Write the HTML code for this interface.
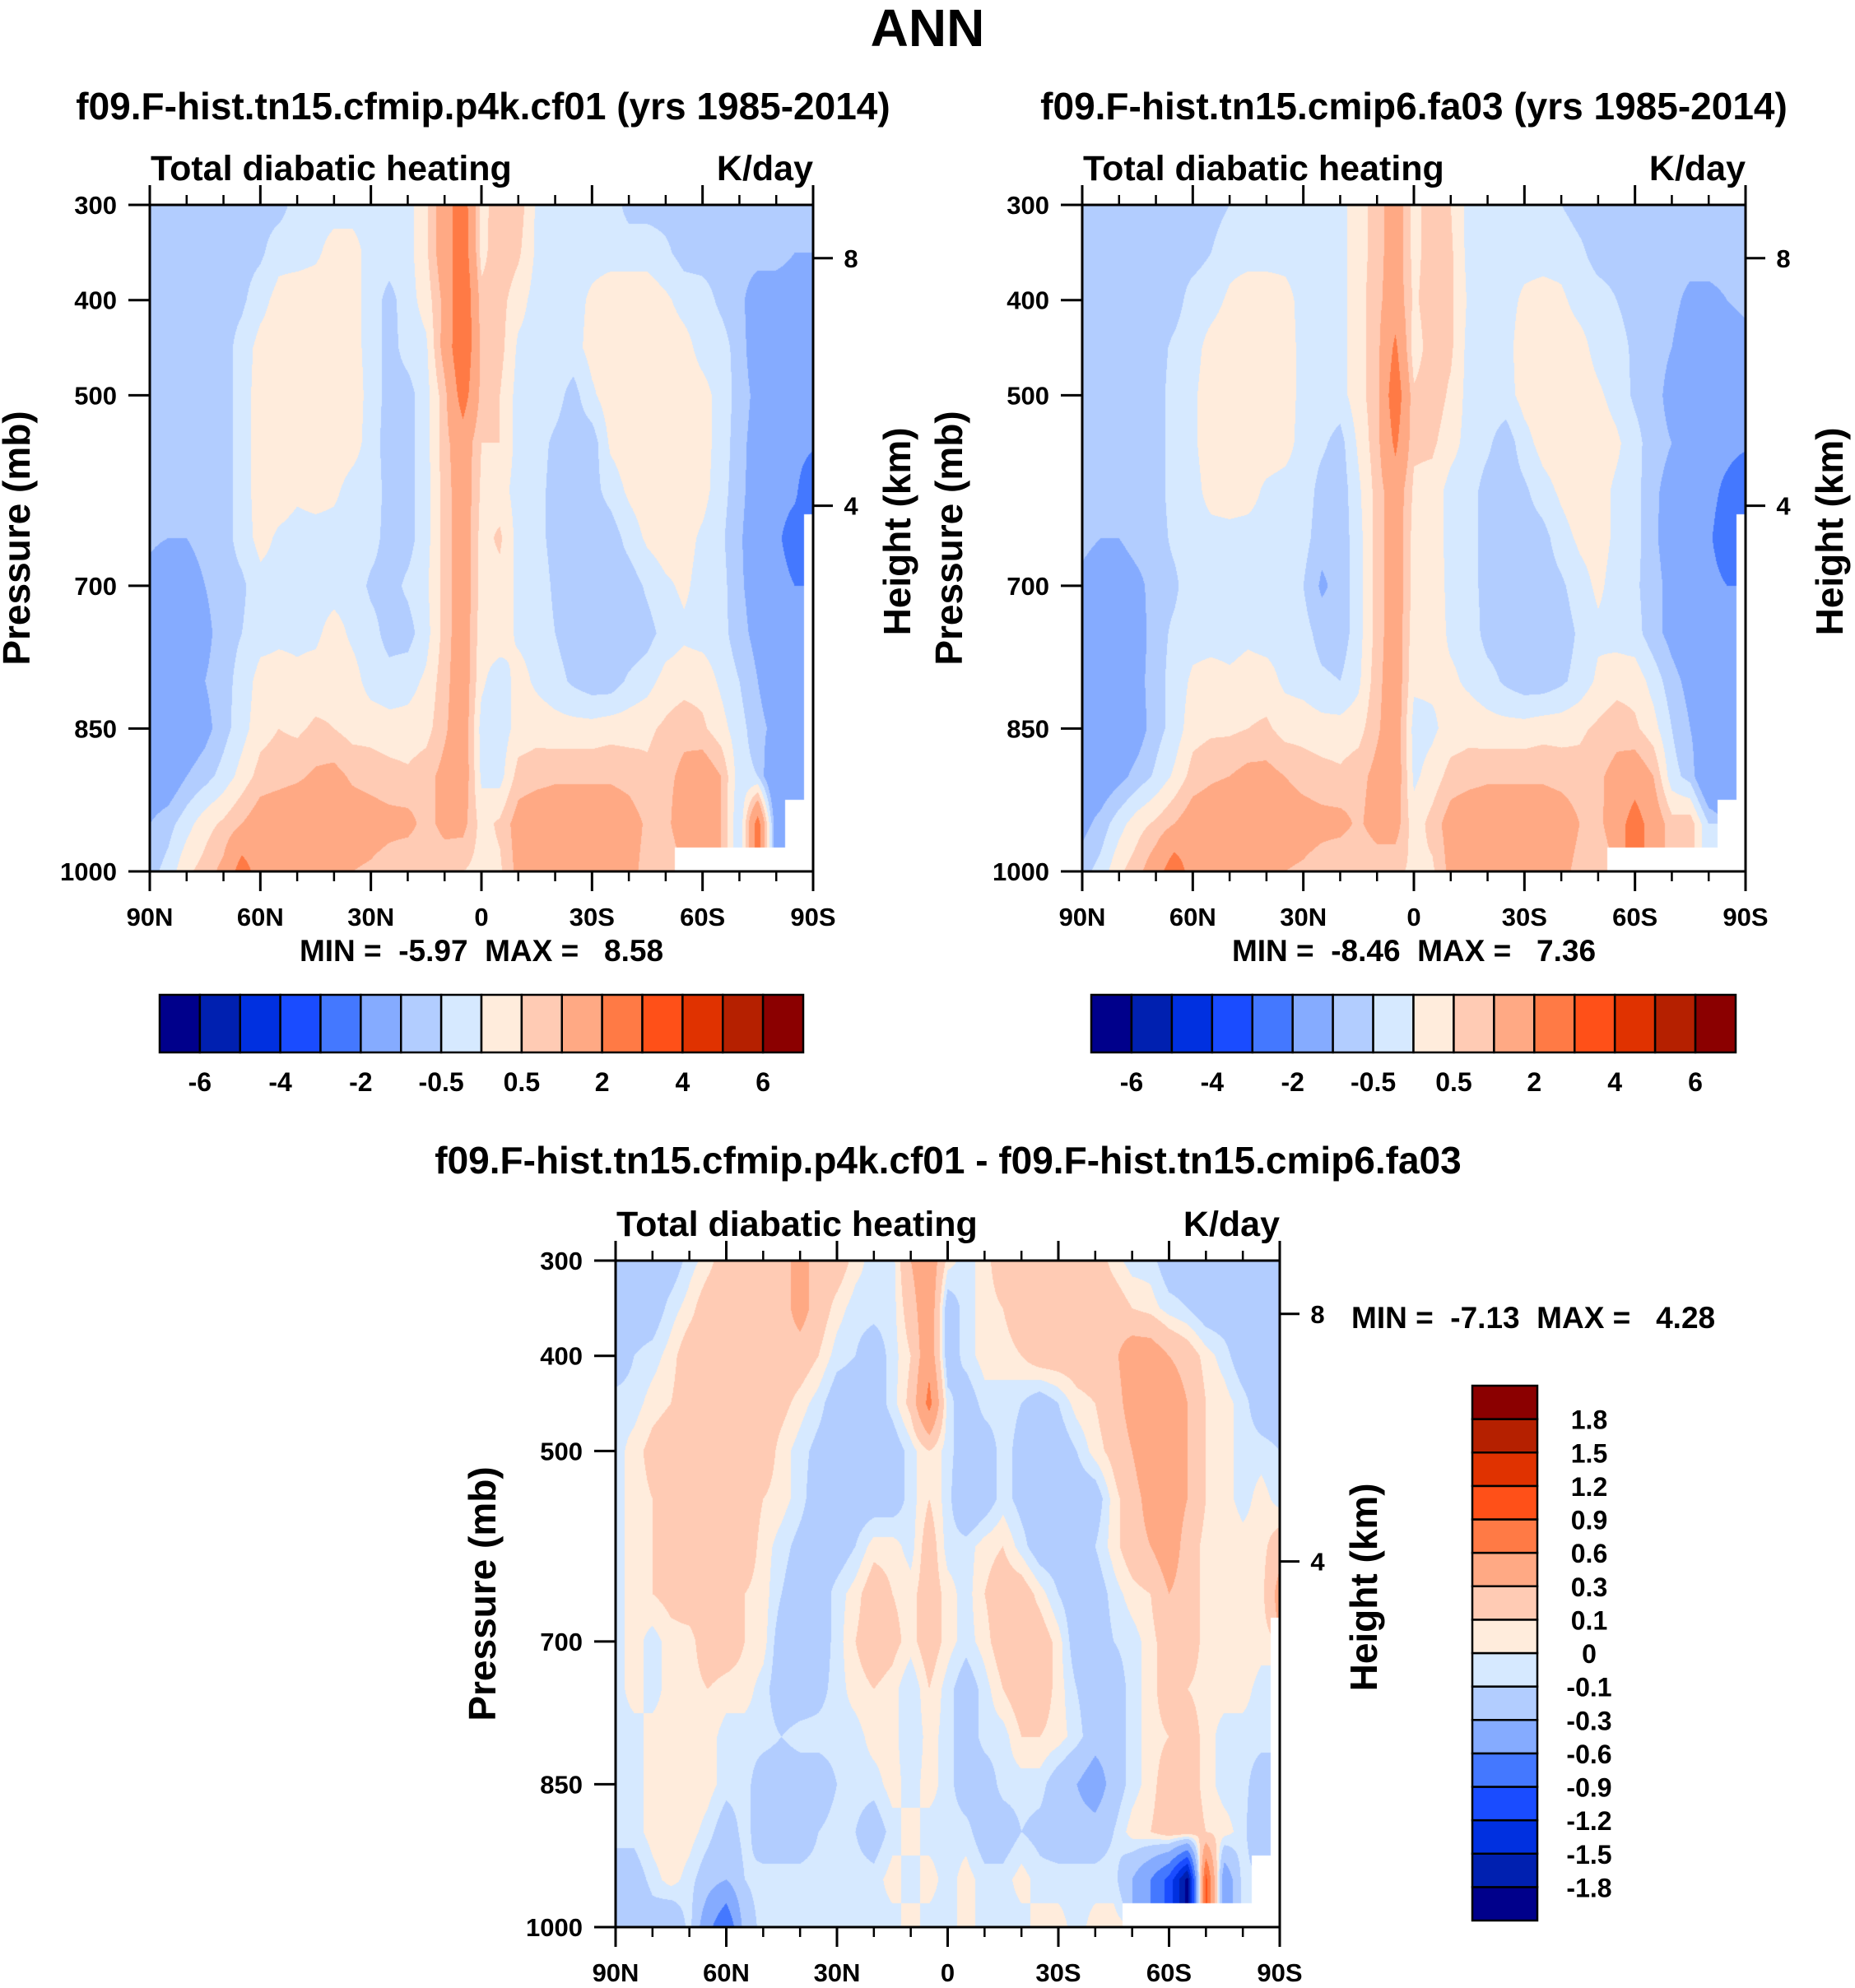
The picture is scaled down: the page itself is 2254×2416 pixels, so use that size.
<!DOCTYPE html>
<html><head><meta charset="utf-8"><style>
html,body{margin:0;padding:0;background:#fff;}
#wrap{position:relative;width:2254px;height:2416px;overflow:hidden;font-family:"Liberation Sans",sans-serif;}
canvas{position:absolute;}
svg{position:absolute;left:0;top:0;}
text{font-family:"Liberation Sans",sans-serif;font-weight:bold;fill:#000;}
</style></head><body>
<div id="wrap">
<canvas id="c1" style="left:182px;top:249px" width="806" height="810"></canvas>
<canvas id="c2" style="left:1315px;top:249px" width="806" height="810"></canvas>
<canvas id="c3" style="left:748px;top:1532px" width="807" height="810"></canvas>
<svg id="svg" width="2254" height="2416">
<text x="1127" y="56" font-size="64" text-anchor="middle">ANN</text>
<text x="587" y="145" font-size="46" text-anchor="middle">f09.F-hist.tn15.cfmip.p4k.cf01 (yrs 1985-2014)</text>
<text x="1718" y="145" font-size="46" text-anchor="middle">f09.F-hist.tn15.cmip6.fa03 (yrs 1985-2014)</text>
<text x="1152" y="1426" font-size="46" text-anchor="middle">f09.F-hist.tn15.cfmip.p4k.cf01 - f09.F-hist.tn15.cmip6.fa03</text>
<text x="585" y="1168" font-size="37" text-anchor="middle" xml:space="preserve">MIN =  -5.97  MAX =   8.58</text>
<text x="1718" y="1168" font-size="37" text-anchor="middle" xml:space="preserve">MIN =  -8.46  MAX =   7.36</text>
<text x="1642" y="1614" font-size="37" xml:space="preserve">MIN =  -7.13  MAX =   4.28</text>
</svg>
</div>
<script>
// ---- data ----
const lats = [90,85,80,75,70,65,60,55,50,45,40,35,30,25,20,15,10,5,0,-5,-10,-15,-20,-25,-30,-35,-40,-45,-50,-55,-60,-65,-70,-75,-80,-85,-90];
const pressures = [300,350,400,450,500,550,600,650,700,750,800,850,900,950,1000];
const N = NaN;
const levelsAbs = [-6,-5,-4,-3,-2,-1,-0.5,0,0.5,1,2,3,4,5,6];
const levelsDiff = [-1.8,-1.5,-1.2,-0.9,-0.6,-0.3,-0.1,0,0.1,0.3,0.6,0.9,1.2,1.5,1.8];
const absLabels = ['-6','-4','-2','-0.5','0.5','2','4','6'];
const diffLabels = ['-1.8','-1.5','-1.2','-0.9','-0.6','-0.3','-0.1','0','0.1','0.3','0.6','0.9','1.2','1.5','1.8'];
const palette = ['#00008b','#0020b0','#0030e0','#1a4cff','#4478ff','#85abff','#b2cdff','#d6e9ff','#ffecdc','#ffcbb4','#ffa984','#ff7a45','#ff5018','#e03200','#b52000','#8b0000'];
const pLabels = [300,400,500,700,850,1000];
const latMajor = [90,60,30,0,-30,-60,-90];
const latMajorLabels = ['90N','60N','30N','0','30S','60S','90S'];
const latMinor = [80,70,50,40,20,10,-10,-20,-40,-50,-70,-80];
const heightTicks = [8,4];
const heightTickP = [356,616];

const cf01 = [
[-0.7,-0.7,-0.7,-0.7,-0.7,-0.7,-0.7,-0.7,-0.3,-0.2,-0.2,-0.2,-0.2,-0.2,-0.2,0.4,1.5,2.6,0.3,0.8,0.8,-0.1,-0.2,-0.2,-0.2,-0.2,-0.7,-0.7,-0.7,-0.7,-0.7,-0.7,-0.7,-0.7,-0.7,-0.7,-0.7],
[-0.7,-0.7,-0.7,-0.7,-0.7,-0.7,-0.6,-0.2,-0.2,-0.1,0.2,0.2,-0.2,-0.2,-0.2,0.4,1.5,2.7,0.3,0.9,0.6,-0.1,-0.2,-0.2,-0.2,-0.2,-0.2,-0.2,-0.4,-0.7,-0.7,-0.7,-0.7,-0.7,-0.7,-1.0,-1.0],
[-0.7,-0.7,-0.7,-0.7,-0.7,-0.6,-0.2,0.2,0.3,0.3,0.3,0.2,-0.2,-0.7,-0.2,0.2,1.2,3.0,0.7,0.7,0.2,-0.2,-0.2,-0.2,0.1,0.3,0.3,0.3,0.1,-0.2,-0.3,-0.6,-0.8,-1.5,-1.5,-1.5,-1.5],
[-0.7,-0.7,-0.7,-0.7,-0.7,-0.3,0.2,0.3,0.3,0.3,0.3,0.2,-0.2,-0.7,-0.3,-0.1,1.3,3.0,0.8,0.7,-0.1,-0.2,-0.2,-0.2,0.2,0.3,0.3,0.3,0.3,0.2,-0.2,-0.3,-0.7,-1.5,-1.5,-1.5,-1.5],
[-0.7,-0.7,-0.7,-0.7,-0.7,-0.3,0.3,0.3,0.3,0.3,0.3,0.3,-0.2,-0.7,-0.7,-0.2,0.8,2.5,0.8,0.5,-0.2,-0.2,-0.3,-0.7,-0.1,0.3,0.3,0.3,0.3,0.3,0.2,-0.2,-0.7,-1.2,-1.5,-1.5,-1.5],
[-0.7,-0.7,-0.7,-0.7,-0.7,-0.3,0.3,0.3,0.3,0.3,0.3,0.2,-0.2,-0.8,-0.7,-0.2,0.8,1.5,0.5,0.5,-0.2,-0.3,-0.6,-0.8,-0.8,0.1,0.3,0.3,0.3,0.3,0.2,-0.2,-0.8,-1.3,-1.5,-1.6,-1.8],
[-0.7,-0.7,-0.7,-0.7,-0.7,-0.3,0.3,0.3,0.1,0.2,0.1,-0.2,-0.2,-0.7,-0.7,-0.2,0.7,1.5,0.4,0.2,-0.2,-0.3,-0.7,-0.8,-0.7,-0.3,0.1,0.3,0.3,0.3,0.2,-0.3,-0.8,-1.4,-1.6,-1.8,-3.0],
[-0.9,-1.0,-1.0,-0.7,-0.7,-0.3,0.2,-0.1,-0.2,-0.2,-0.2,-0.2,-0.3,-0.7,-0.7,-0.2,0.7,1.5,0.3,0.6,-0.2,-0.3,-0.7,-0.8,-0.8,-0.8,-0.3,0.1,0.3,0.2,-0.1,-0.4,-0.9,-1.5,-1.8,-2.5,N],
[-1.2,-1.5,-1.5,-1.0,-0.7,-0.6,-0.2,-0.2,-0.2,-0.2,-0.2,-0.2,-0.6,-0.7,-0.4,-0.1,0.7,1.5,0.3,0.3,-0.1,-0.2,-0.6,-0.8,-0.8,-0.8,-0.8,-0.4,-0.1,0.1,-0.2,-0.3,-0.9,-1.3,-1.6,-2.0,N],
[-1.5,-1.5,-1.5,-1.2,-0.7,-0.5,-0.2,-0.1,-0.1,-0.1,0.2,-0.1,-0.3,-0.7,-0.7,-0.2,0.7,1.5,0.2,0.3,-0.1,-0.2,-0.5,-0.8,-0.8,-0.8,-0.9,-0.7,-0.3,-0.1,-0.2,-0.3,-0.8,-1.2,-1.5,-1.5,N],
[-1.5,-1.5,-1.5,-1.0,-0.7,-0.3,0.2,0.2,0.1,0.2,0.3,0.2,-0.2,-0.3,-0.2,0.1,0.8,1.5,0.1,-0.3,0.2,-0.1,-0.3,-0.6,-0.8,-0.8,-0.4,-0.2,0.2,0.3,0.3,-0.1,-0.5,-1.0,-1.5,-1.5,N],
[-1.5,-1.5,-1.5,-1.2,-0.7,-0.2,0.3,0.5,0.4,0.6,0.5,0.3,0.3,0.2,0.2,0.3,0.9,1.5,-0.2,-0.3,0.2,0.3,0.2,0.2,0.2,0.3,0.3,0.4,0.6,0.8,0.6,0.2,-0.3,-0.8,-1.2,-1.5,N],
[-1.5,-1.5,-1.0,-0.7,-0.3,0.2,0.7,0.8,0.9,1.1,1.2,0.9,0.8,0.7,0.6,0.8,1.2,1.5,-0.1,-0.2,0.7,0.8,0.9,0.9,0.9,0.9,0.8,0.6,0.8,1.2,1.5,1.0,-0.3,-0.5,-2.0,-1.5,N],
[-1.0,-0.7,-0.2,0.3,0.6,1.0,1.4,1.5,1.6,1.5,1.5,1.4,1.3,1.2,1.2,0.8,1.2,1.2,0.3,0.6,1.3,1.5,1.5,1.5,1.5,1.5,1.3,0.9,0.8,1.5,1.5,1.0,-0.5,2.5,-1.5,N,N],
[-0.7,-0.3,0.4,0.7,1.2,2.5,1.5,1.5,1.5,1.3,1.2,1.0,0.9,0.7,0.5,0.5,0.6,0.5,0.3,0.4,1.2,1.5,1.5,1.5,1.5,1.5,1.2,0.8,0.5,N,N,N,N,N,N,N,N]
];
const fa03 = [
[-0.7,-0.7,-0.7,-0.7,-0.7,-0.7,-0.7,-0.7,-0.5,-0.2,-0.2,-0.2,-0.2,-0.2,-0.2,0.3,0.7,1.5,0.3,0.8,0.5,-0.2,-0.2,-0.2,-0.2,-0.2,-0.5,-0.7,-0.7,-0.7,-0.7,-0.7,-0.7,-0.7,-0.7,-0.7,-0.7],
[-0.7,-0.7,-0.7,-0.7,-0.7,-0.7,-0.7,-0.5,-0.2,-0.2,-0.2,-0.2,-0.2,-0.2,-0.2,0.3,0.7,1.5,0.3,0.8,0.6,-0.2,-0.2,-0.2,-0.2,-0.2,-0.2,-0.4,-0.7,-0.7,-0.7,-0.7,-0.7,-0.7,-0.7,-0.7,-0.7],
[-0.7,-0.7,-0.7,-0.7,-0.7,-0.7,-0.3,-0.2,0.1,0.3,0.3,0.2,-0.2,-0.2,-0.2,0.3,0.8,1.5,0.4,0.8,0.6,-0.1,-0.2,-0.2,0.1,0.2,0.1,-0.2,-0.3,-0.5,-0.7,-0.7,-0.8,-1.2,-1.2,-1.0,-0.8],
[-0.7,-0.7,-0.7,-0.7,-0.7,-0.4,-0.2,0.2,0.3,0.3,0.3,0.3,-0.2,-0.2,-0.2,0.3,0.8,2.2,0.2,0.8,0.6,-0.2,-0.2,-0.2,0.3,0.3,0.3,0.2,-0.2,-0.3,-0.6,-0.8,-1.0,-1.5,-1.5,-1.5,-1.3],
[-0.7,-0.7,-0.7,-0.7,-0.7,-0.3,-0.1,0.3,0.3,0.3,0.3,0.3,-0.2,-0.2,-0.2,0.3,0.8,2.7,0.6,0.8,0.4,-0.2,-0.2,-0.2,0.2,0.3,0.3,0.3,0.1,-0.2,-0.6,-0.8,-1.2,-1.5,-1.5,-1.5,-1.5],
[-0.7,-0.7,-0.7,-0.7,-0.7,-0.3,-0.1,0.3,0.3,0.3,0.3,0.2,-0.2,-0.4,-0.7,0.1,0.8,2.2,0.6,0.6,0.2,-0.2,-0.4,-0.8,-0.2,0.2,0.3,0.3,0.3,0.1,-0.3,-0.8,-1.0,-1.5,-1.5,-1.6,-1.8],
[-0.7,-0.7,-0.7,-0.7,-0.7,-0.3,-0.2,0.2,0.3,0.2,-0.1,-0.2,-0.2,-0.7,-0.8,-0.1,0.7,1.5,0.4,0.3,-0.2,-0.3,-0.7,-0.8,-0.6,-0.2,0.1,0.3,0.2,-0.1,-0.3,-0.9,-1.2,-1.5,-1.6,-2.3,-3.0],
[-0.8,-1.0,-1.0,-0.7,-0.7,-0.4,-0.2,-0.2,-0.2,-0.2,-0.2,-0.2,-0.3,-0.8,-0.8,-0.2,0.7,1.5,0.3,0.3,-0.2,-0.3,-0.7,-0.8,-0.8,-0.7,-0.2,0.1,0.2,-0.1,-0.3,-0.9,-1.3,-1.5,-1.8,-2.8,N],
[-1.2,-1.5,-1.5,-1.2,-0.7,-0.6,-0.2,-0.2,-0.2,-0.2,-0.2,-0.2,-0.5,-1.1,-0.8,-0.2,0.7,1.5,0.3,0.4,-0.2,-0.3,-0.7,-0.8,-0.8,-0.8,-0.6,-0.2,0.1,-0.2,-0.4,-0.8,-1.2,-1.5,-1.6,-2.0,N],
[-1.5,-1.5,-1.5,-1.3,-0.7,-0.4,-0.2,-0.2,-0.2,-0.1,-0.2,-0.2,-0.3,-0.7,-0.8,-0.2,0.7,1.5,0.2,0.3,-0.1,-0.2,-0.7,-0.8,-0.8,-0.8,-0.8,-0.4,-0.1,-0.2,-0.3,-0.8,-1.2,-1.5,-1.5,-1.6,N],
[-1.5,-1.5,-1.5,-1.2,-0.7,-0.3,0.1,0.2,0.1,0.2,0.2,-0.1,-0.2,-0.4,-0.5,-0.1,0.8,1.5,0.1,0.1,0.1,-0.1,-0.3,-0.6,-0.8,-0.8,-0.6,-0.3,0.1,0.3,0.3,-0.2,-0.8,-1.2,-1.5,-1.6,N],
[-1.5,-1.5,-1.5,-1.3,-0.7,-0.3,0.3,0.4,0.4,0.5,0.6,0.3,0.3,0.2,0.2,0.3,0.9,1.5,-0.2,-0.1,0.2,0.3,0.2,0.2,0.2,0.3,0.3,0.4,0.6,0.8,0.6,0.2,-0.5,-1.0,-1.5,-1.7,N],
[-1.5,-1.5,-1.2,-0.8,-0.4,0.1,0.7,0.9,1.0,1.2,1.2,1.0,0.8,0.7,0.6,0.8,1.2,1.5,-0.1,0.2,0.7,0.8,0.9,0.9,0.9,0.9,0.8,0.7,0.9,1.2,1.5,1.0,-0.3,-0.7,-2.0,-2.0,N],
[-1.2,-0.8,-0.2,0.3,0.6,1.0,1.4,1.5,1.6,1.5,1.5,1.4,1.3,1.2,1.2,0.9,1.3,1.3,0.2,0.7,1.3,1.5,1.5,1.5,1.5,1.5,1.4,1.0,0.8,1.5,2.5,1.5,0.7,0.8,-0.5,N,N],
[-0.7,-0.3,0.4,0.8,1.5,2.7,1.5,1.5,1.5,1.3,1.2,1.0,0.9,0.7,0.5,0.5,0.6,0.6,0.4,0.4,1.2,1.5,1.5,1.5,1.5,1.5,1.2,0.8,0.5,N,N,N,N,N,N,N,N]
];
const diff = [
[-0.2,-0.2,-0.2,-0.2,-0.05,0.05,0.2,0.2,0.2,0.2,0.4,0.2,0.2,0.05,-0.05,-0.05,0.3,0.5,0.05,-0.05,0.05,0.2,0.2,0.2,0.2,0.2,0.2,0.05,-0.05,-0.05,-0.2,-0.2,-0.2,-0.2,-0.2,-0.2,-0.2],
[-0.2,-0.2,-0.2,-0.05,0.05,0.2,0.2,0.2,0.2,0.2,0.4,0.2,0.05,-0.05,-0.05,-0.05,0.2,0.5,-0.2,-0.05,0.05,0.1,0.2,0.2,0.2,0.2,0.2,0.2,0.1,0.05,-0.05,-0.1,-0.2,-0.2,-0.2,-0.2,-0.2],
[-0.2,-0.1,-0.05,0.05,0.2,0.2,0.2,0.2,0.2,0.2,0.2,0.1,-0.05,-0.1,-0.2,-0.05,0.1,0.5,-0.2,-0.05,0.05,0.05,0.1,0.2,0.2,0.2,0.2,0.25,0.45,0.45,0.3,0.2,0.05,-0.05,-0.2,-0.2,-0.2],
[-0.05,-0.05,0.05,0.1,0.2,0.2,0.2,0.2,0.2,0.15,0.05,-0.05,-0.2,-0.2,-0.2,-0.05,0.15,0.7,-0.05,-0.2,-0.05,-0.05,-0.1,-0.2,-0.1,0.05,0.1,0.2,0.4,0.5,0.5,0.3,0.1,0.05,-0.05,-0.2,-0.2],
[-0.05,0.05,0.15,0.2,0.2,0.2,0.2,0.2,0.2,0.05,-0.05,-0.15,-0.2,-0.2,-0.2,-0.2,-0.05,0.1,-0.05,-0.2,-0.2,-0.05,-0.15,-0.2,-0.2,-0.1,0.05,0.15,0.3,0.5,0.5,0.3,0.1,0.05,-0.05,-0.05,-0.1],
[-0.05,0.05,0.1,0.2,0.2,0.2,0.2,0.2,0.1,0.05,-0.05,-0.2,-0.2,-0.2,-0.2,-0.2,-0.05,0.1,-0.05,-0.3,-0.2,-0.05,-0.15,-0.2,-0.2,-0.2,-0.2,0.05,0.2,0.4,0.45,0.3,0.1,0.05,-0.05,0.05,-0.05],
[-0.05,0.05,0.1,0.2,0.2,0.2,0.2,0.2,0.05,-0.05,-0.15,-0.2,-0.2,-0.1,0.05,0.05,-0.05,0.2,-0.05,-0.05,0.05,0.1,-0.05,-0.2,-0.2,-0.2,-0.1,0.05,0.2,0.3,0.45,0.2,0.05,0.1,0.05,0.05,0.2],
[-0.05,0.05,0.1,0.15,0.2,0.2,0.2,0.1,0.05,-0.1,-0.2,-0.2,-0.05,0.05,0.2,0.1,0.05,0.2,0.05,-0.05,0.1,0.2,0.2,0.05,-0.1,-0.2,-0.2,-0.05,0.05,0.1,0.3,0.2,0.05,0.05,0.05,0.05,0.4],
[-0.05,0.05,-0.05,0.05,0.05,0.2,0.2,0.1,0.05,-0.2,-0.2,-0.2,-0.05,0.1,0.2,0.15,0.05,0.2,0.05,-0.05,0.05,0.2,0.2,0.2,0.05,-0.2,-0.2,-0.1,-0.05,0.05,0.2,0.2,0.05,0.05,0.1,0.05,N],
[-0.05,0.05,-0.05,0.05,0.05,0.1,0.05,0.05,-0.05,-0.2,-0.2,-0.15,-0.05,0.05,0.1,0.05,-0.1,0.1,-0.05,-0.2,-0.05,0.1,0.2,0.2,0.05,-0.1,-0.2,-0.2,-0.05,0.05,0.2,0.1,0.05,0.05,0.05,-0.05,N],
[-0.05,-0.05,0.05,0.05,0.1,0.05,-0.05,-0.05,-0.05,-0.1,-0.05,-0.05,-0.05,-0.05,0.05,0.05,-0.1,0.05,-0.05,-0.2,-0.05,-0.05,0.1,0.1,0.05,-0.05,-0.2,-0.2,-0.05,0.05,0.1,0.2,0.05,-0.05,-0.05,-0.05,N],
[-0.05,-0.05,0.05,0.05,0.1,0.05,-0.05,-0.05,-0.2,-0.2,-0.2,-0.2,-0.1,-0.05,-0.05,0.05,-0.05,0.05,-0.05,-0.2,-0.2,-0.05,-0.05,-0.05,-0.2,-0.3,-0.45,-0.2,-0.05,0.05,0.2,0.2,0.05,-0.05,-0.05,-0.2,N],
[-0.05,-0.05,0.05,0.1,0.05,-0.05,-0.2,-0.05,-0.2,-0.2,-0.2,-0.1,-0.05,-0.1,-0.2,-0.05,0.05,-0.05,-0.05,-0.05,-0.2,-0.2,-0.1,-0.15,-0.2,-0.2,-0.2,-0.1,0.05,0.1,0.2,0.2,0.1,0.05,-0.05,-0.3,N],
[-0.2,-0.2,-0.05,0.05,-0.05,-0.2,-0.3,-0.1,-0.05,-0.05,-0.05,-0.05,-0.05,-0.05,-0.05,0.05,-0.05,0.05,-0.05,0.05,-0.05,-0.05,0.05,-0.05,-0.05,-0.05,-0.05,-0.05,-0.3,-0.6,-1.0,-1.9,1.0,-0.5,-0.05,N,N],
[-0.1,-0.3,-0.2,-0.3,-0.05,-0.5,-0.9,-0.2,-0.05,-0.05,-0.05,-0.05,-0.05,-0.05,-0.05,-0.05,0.05,-0.05,-0.05,0.05,-0.05,-0.05,-0.05,0.05,0.05,-0.05,0.05,0.05,N,N,N,N,N,N,N,N,N]
];

// ---- rendering ----
const SVGNS = 'http://www.w3.org/2000/svg';
const svg = document.getElementById('svg');
function hexToRgb(h){return [parseInt(h.substr(1,2),16),parseInt(h.substr(3,2),16),parseInt(h.substr(5,2),16)];}
const palRgb = palette.map(hexToRgb);

function fillContour(canvasId, data, levels){
  const cv = document.getElementById(canvasId);
  const ctx = cv.getContext('2d');
  const W = cv.width, H = cv.height;
  const img = ctx.createImageData(W,H);
  const nc = lats.length, nr = pressures.length;
  const pTop = pressures[0], pBot = pressures[nr-1];
  for(let py=0;py<H;py++){
    const p = pTop + (py+0.5)/H*(pBot-pTop);
    let r0 = 0; while(r0<nr-2 && pressures[r0+1]<p) r0++;
    const fv = (p-pressures[r0])/(pressures[r0+1]-pressures[r0]);
    for(let px=0;px<W;px++){
      const lat = lats[0] + (px+0.5)/W*(lats[nc-1]-lats[0]);
      let c0 = 0; while(c0<nc-2 && lats[c0+1]>lat) c0++;
      const fu = (lats[c0]-lat)/(lats[c0]-lats[c0+1]);
      const near = data[fv<0.5?r0:r0+1][fu<0.5?c0:c0+1];
      const k=(py*W+px)*4;
      if(isNaN(near)){img.data[k]=255;img.data[k+1]=255;img.data[k+2]=255;img.data[k+3]=255;continue;}
      const vals=[data[r0][c0],data[r0][c0+1],data[r0+1][c0],data[r0+1][c0+1]];
      const ws=[(1-fu)*(1-fv),fu*(1-fv),(1-fu)*fv,fu*fv];
      let s=0,sw=0;
      for(let i=0;i<4;i++){if(!isNaN(vals[i])){s+=vals[i]*ws[i];sw+=ws[i];}}
      const v=s/sw;
      let idx=0; while(idx<levels.length && v>=levels[idx]) idx++;
      const col=palRgb[idx];
      img.data[k]=col[0];img.data[k+1]=col[1];img.data[k+2]=col[2];img.data[k+3]=255;
    }
  }
  ctx.putImageData(img,0,0);
}

function mk(tag, attrs, txt){
  const e=document.createElementNS(SVGNS,tag);
  for(const a in attrs) e.setAttribute(a,attrs[a]);
  if(txt!==undefined) e.textContent=txt;
  svg.appendChild(e);
  return e;
}

function drawAxes(pre, L, T, W, H){
  const xOf = lat => L + (lats[0]-lat)/(lats[0]-lats[lats.length-1])*W;
  const yOf = p => T + (p-pressures[0])/(pressures[pressures.length-1]-pressures[0])*H;
  const frame = mk('rect',{x:L,y:T,width:W,height:H,fill:'none',stroke:'#000','stroke-width':3});
  
  
  latMajor.forEach((lat,i)=>{
    const x=xOf(lat);
    const t1=mk('line',{x1:x,x2:x,y1:T,y2:T-24,stroke:'#000','stroke-width':3});
    
    
    const t2=mk('line',{x1:x,x2:x,y1:T+H,y2:T+H+24,stroke:'#000','stroke-width':3});
    
    
    const lb=mk('text',{x:x,y:T+H+66,'font-size':31,'text-anchor':'middle'},latMajorLabels[i]);
    
    
  });
  latMinor.forEach(lat=>{
    const x=xOf(lat);
    const t1=mk('line',{x1:x,x2:x,y1:T,y2:T-12,stroke:'#000','stroke-width':2.5});
    
    
    const t2=mk('line',{x1:x,x2:x,y1:T+H,y2:T+H+12,stroke:'#000','stroke-width':2.5});
    
    
  });
  pLabels.forEach(p=>{
    const y=yOf(p);
    const t=mk('line',{x1:L,x2:L-26,y1:y,y2:y,stroke:'#000','stroke-width':3});
    
    
    const lb=mk('text',{x:L-40,y:y+11,'font-size':31,'text-anchor':'end'},String(p));
    
    
  });
  heightTicks.forEach((h,i)=>{
    const y=yOf(heightTickP[i]);
    const t=mk('line',{x1:L+W,x2:L+W+24,y1:y,y2:y,stroke:'#000','stroke-width':3});
    
    
    const lb=mk('text',{x:L+W+46,y:y+11,'font-size':31,'text-anchor':'middle'},String(h));
    
    
  });
  const st=mk('text',{x:L+1,y:T-30,'font-size':43},'Total diabatic heating');
  
  
  const un=mk('text',{x:L+W,y:T-30,'font-size':43,'text-anchor':'end'},'K/day');
  
  
  const cy=T+H*0.5;
  const yl=mk('text',{x:0,y:0,'font-size':46,'text-anchor':'middle',transform:'translate('+(L-146)+','+cy+') rotate(-90)'},'Pressure (mb)');
  
  
  const hl=mk('text',{x:0,y:0,'font-size':46,'text-anchor':'middle',transform:'translate('+(L+W+118)+','+(T+H*0.49)+') rotate(-90)'},'Height (km)');
  
  
}

function hColorbar(pre, L, T, W, H){
  const n=palette.length, bw=W/n;
  palette.forEach((c,i)=>{
    const r=mk('rect',{x:L+i*bw,y:T,width:bw,height:H,fill:c,stroke:'#000','stroke-width':2.5});
    
    
  });
  absLabels.forEach((t,j)=>{
    const x=L+(1+2*j)*bw;
    const lb=mk('text',{x:x,y:T+H+47,'font-size':32,'text-anchor':'middle'},t);
    
    
  });
}

function vColorbar(pre, L, T, W, H){
  const n=palette.length, bh=H/n;
  palette.forEach((c,i)=>{
    const r=mk('rect',{x:L,y:T+(n-1-i)*bh,width:W,height:bh,fill:c,stroke:'#000','stroke-width':2.5});
    
    
  });
  diffLabels.forEach((t,j)=>{
    const y=T+(n-1-j)*bh;
    const lb=mk('text',{x:L+W+63,y:y+12,'font-size':32,'text-anchor':'middle'},t);
    
    
  });
}

fillContour('c1', cf01, levelsAbs);
fillContour('c2', fa03, levelsAbs);
fillContour('c3', diff, levelsDiff);
drawAxes('panel1',182,249,806,810);
drawAxes('panel2',1315,249,806,810);
drawAxes('panel3',748,1532,807,810);
hColorbar('panel1',194,1209,782,70);
hColorbar('panel2',1326,1209,783,70);
vColorbar('panel3',1789,1684,79,650);
</script>
</body></html>
